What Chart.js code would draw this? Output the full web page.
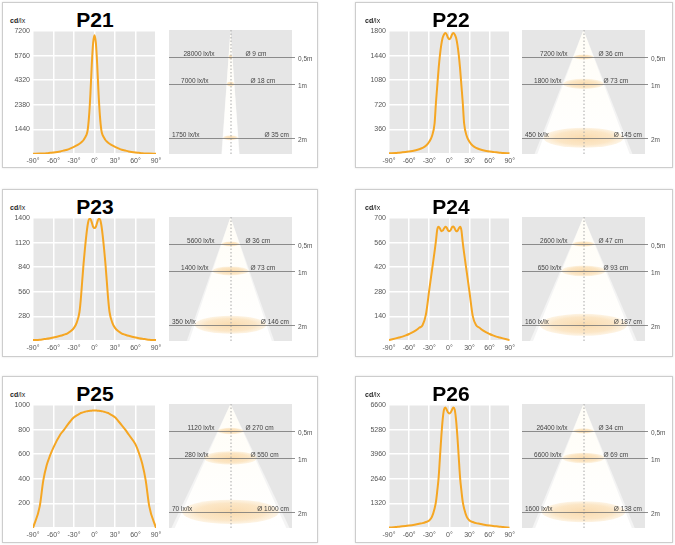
<!DOCTYPE html>
<html><head><meta charset="utf-8">
<script src="https://cdn.jsdelivr.net/npm/chart.js@4.4.0/dist/chart.umd.min.js"></script>
<style>
html,body{margin:0;padding:0;background:#fff}
body{width:675px;height:545px;position:relative;overflow:hidden;font-family:"Liberation Sans",Arial,Helvetica,sans-serif}
.box{position:absolute;border:1px solid #cdcdcd;box-shadow:0 0 2px rgba(0,0,0,0.12);background:#fff}
.title{position:absolute;width:80px;text-align:center;top:6px;font-weight:bold;font-size:21px;line-height:21px;color:#000}
.unit{position:absolute;left:8px;top:14px;font-size:7px;line-height:7px;color:#222}
.unit b{font-weight:bold}
canvas{position:absolute}
</style>
</head><body>
<script>
// ---------- data ----------
const panelNames = ['P21','P22','P23','P24','P25','P26'];
const angles = [-90,-80,-75,-70,-65,-60,-50,-45,-40,-35,-30,-26,-22,-20,-18,-16,-14,-12,-10,-8,-6,-4,-2,0,2,4,6,8,10,12,14,16,18,20,22,26,30,35,40,45,50,60,65,70,75,80,90];
const xTickValues = [-90,-60,-30,0,30,60,90];

const p21Values = [10,25,35,50,70,90,150,200,250,330,420,500,600,660,730,820,950,1100,1400,2200,3500,5200,6500,6950,6500,5200,3500,2200,1400,1100,950,820,730,660,600,500,420,330,250,200,150,90,70,50,35,25,10];
const p22Values = [10,15,20,25,30,35,55,70,90,120,180,260,450,750,1000,1250,1450,1600,1700,1750,1770,1750,1700,1680,1700,1750,1770,1750,1700,1600,1450,1250,1000,750,450,260,180,120,90,70,55,35,30,25,20,15,10];
const p23Values = [10,15,20,25,32,40,60,72,85,110,150,210,330,480,680,880,1050,1200,1320,1385,1390,1350,1300,1285,1300,1350,1390,1385,1320,1200,1050,880,680,480,330,210,150,110,85,72,60,40,32,25,20,15,10];
const p24Values = [5,15,20,25,32,40,60,75,90,150,290,400,510,570,635,650,640,625,628,640,650,645,630,625,632,648,652,640,625,626,640,650,630,560,500,390,280,140,90,75,60,40,32,25,20,15,5];
const p25Values = [0,180,385,510,590,656,760,795,835,870,900,915,928,935,938,942,945,948,950,952,953,954,955,955,955,954,953,952,950,948,945,942,938,935,928,915,900,868,835,800,760,680,610,520,385,180,0];
const p26Values = [20,50,70,90,110,130,190,225,260,320,400,600,1050,1400,2000,2700,3800,4900,5800,6350,6470,6350,6200,6150,6200,6350,6470,6350,5800,4900,3800,2700,2000,1400,1050,600,400,320,260,225,190,130,110,90,70,50,20];

const p21Ticks = ['','1440','2380','4320','5760','7200'];
const p22Ticks = ['','360','720','1080','1440','1800'];
const p23Ticks = ['','280','560','840','1120','1400'];
const p24Ticks = ['','140','280','420','560','700'];
const p25Ticks = ['','200','400','600','800','1000'];
const p26Ticks = ['','1320','2640','3960','5280','6600'];
const yMaxes = [7200,1800,1400,700,1000,6600];

const distances = [0.5, 1, 2];
const distanceLabels = ['0,5m','1m','2m'];
const p21Lux = [28000,7000,1750];   const p21Diam = [9,18,35];
const p22Lux = [7200,1800,450];     const p22Diam = [36,73,145];
const p23Lux = [5600,1400,350];     const p23Diam = [36,73,146];
const p24Lux = [2600,650,160];      const p24Diam = [47,93,187];
const p25Lux = [1120,280,70];       const p25Diam = [270,550,1000];
const p26Lux = [26400,6600,1600];   const p26Diam = [34,69,138];
// half-width (cm) of each light-cone drawing's horizontal axis
const coneHalfRange = [143,111,125,131,634,101];

const valueSets = [p21Values,p22Values,p23Values,p24Values,p25Values,p26Values];
const tickSets = [p21Ticks,p22Ticks,p23Ticks,p24Ticks,p25Ticks,p26Ticks];
const luxSets = [p21Lux,p22Lux,p23Lux,p24Lux,p25Lux,p26Lux];
const diamSets = [p21Diam,p22Diam,p23Diam,p24Diam,p25Diam,p26Diam];

// ---------- layout ----------
const boxes = [
  {x:2,y:2,w:316,h:166,col:0},{x:355,y:2,w:318,h:166,col:1},
  {x:2,y:189,w:316,h:168,col:0},{x:355,y:189,w:318,h:168,col:1},
  {x:2,y:376,w:316,h:167,col:0},{x:355,y:376,w:318,h:167,col:1}
];
const FONT = '"Liberation Sans", Arial, Helvetica, sans-serif';
const CURVE = '#f5a623';

const plotBg = {
  id:'plotBg',
  beforeDraw(chart){
    const {ctx, chartArea:a} = chart;
    ctx.save(); ctx.fillStyle = '#e7e7e7';
    ctx.fillRect(a.left, a.top, a.right-a.left, a.bottom-a.top);
    ctx.restore();
  }
};

const conePlugin = {
  id:'cone',
  afterDraw(chart){
    const {ctx, chartArea:a, scales:{x, y}} = chart;
    const pts = chart.data.datasets[0].data;
    const cx = x.getPixelForValue(0);
    ctx.save();
    ctx.fillStyle = '#e6e6e6';
    ctx.fillRect(a.left, a.top, a.right-a.left, a.bottom-a.top);
    const far = pts[pts.length-1];
    const yEnd = y.max;
    const hw = far.diam/2 * (yEnd/far.y);
    const apexY = y.getPixelForValue(0);
    const botY = y.getPixelForValue(yEnd);
    ctx.beginPath();
    ctx.rect(a.left, a.top, a.right-a.left, a.bottom-a.top);
    ctx.clip();
    ctx.fillStyle = 'rgba(255,255,255,0.55)';
    ctx.beginPath();
    ctx.moveTo(cx, apexY);
    ctx.lineTo(x.getPixelForValue(-hw*1.06), botY);
    ctx.lineTo(x.getPixelForValue(hw*1.06), botY);
    ctx.closePath(); ctx.fill();
    const g = ctx.createLinearGradient(0, apexY, 0, botY);
    g.addColorStop(0,'#fffdf6'); g.addColorStop(1,'#ffffff');
    ctx.fillStyle = g;
    ctx.beginPath();
    ctx.moveTo(cx, apexY);
    ctx.lineTo(x.getPixelForValue(-hw), botY);
    ctx.lineTo(x.getPixelForValue(hw), botY);
    ctx.closePath(); ctx.fill();
    pts.forEach(p => {
      const py = y.getPixelForValue(p.y);
      const rx = Math.abs(x.getPixelForValue(p.diam/2) - cx);
      const ry = Math.max(2.5, rx*0.25);
      const rg = ctx.createRadialGradient(cx, py, 0, cx, py, rx);
      rg.addColorStop(0,'rgba(246,190,110,0.55)');
      rg.addColorStop(0.7,'rgba(247,200,130,0.45)');
      rg.addColorStop(1,'rgba(248,210,150,0.25)');
      ctx.fillStyle = rg;
      ctx.save(); ctx.translate(cx, py); ctx.scale(1, ry/rx); ctx.translate(-cx,-py);
      ctx.beginPath(); ctx.arc(cx, py, rx, 0, Math.PI*2); ctx.fill();
      ctx.restore();
    });
    ctx.strokeStyle = '#a8a8a8'; ctx.lineWidth = 1; ctx.setLineDash([1.5,2]);
    ctx.beginPath(); ctx.moveTo(cx+0.5, apexY); ctx.lineTo(cx+0.5, botY); ctx.stroke();
    ctx.setLineDash([]);
    ctx.restore();
    ctx.save();
    ctx.font = '6.5px ' + FONT;
    pts.forEach((p, i) => {
      const py = Math.round(y.getPixelForValue(p.y)) + 0.5;
      ctx.strokeStyle = '#737373'; ctx.lineWidth = 0.8;
      ctx.beginPath(); ctx.moveTo(a.left, py); ctx.lineTo(a.right+3, py); ctx.stroke();
      ctx.fillStyle = '#444';
      ctx.textBaseline = 'alphabetic';
      const luxText = p.lux + ' ' + 'lx/lx';
      const dText = 'Ø ' + p.diam + ' cm';
      if (i < 2) {
        ctx.textAlign = 'right'; ctx.fillText(luxText, cx - (16 + 6*i), py - 1.5);
        ctx.textAlign = 'left'; ctx.fillText(dText, cx + (15 + 5*i), py - 1.5);
      } else {
        ctx.textAlign = 'left'; ctx.fillText(luxText, a.left + 3, py - 1.5);
        ctx.textAlign = 'right'; ctx.fillText(dText, a.right - 3, py - 1.5);
      }
      ctx.textAlign = 'left'; ctx.textBaseline = 'middle';
      ctx.fillStyle = '#555';
      ctx.fillText(p.label, a.right + 6, py + 2);
    });
    ctx.restore();
  }
};

function makeCanvas(parent, left, top, w, h){
  const c = document.createElement('canvas');
  c.width = w; c.height = h;
  c.style.left = left+'px'; c.style.top = top+'px';
  c.style.width = w+'px'; c.style.height = h+'px';
  parent.appendChild(c);
  return c;
}

boxes.forEach((b, k) => {
  const div = document.createElement('div');
  div.className = 'box';
  div.style.left = b.x+'px'; div.style.top = b.y+'px';
  div.style.width = (b.w-2)+'px'; div.style.height = (b.h-2)+'px';
  document.body.appendChild(div);

  const t = document.createElement('div');
  t.className = 'title';
  t.textContent = panelNames[k];
  t.style.left = (b.col ? 55 : 52) + 'px';
  div.appendChild(t);
  const u = document.createElement('div');
  u.className = 'unit';
  u.innerHTML = '<b>cd</b>/lx';
  u.style.left = (b.col ? 9 : 7) + 'px';
  div.appendChild(u);

  const yW = b.col ? 33 : 30;
  const lc = makeCanvas(div, 0, 19, 162, 147);
  const vals = valueSets[k];
  const ticks = tickSets[k];
  const yMax = yMaxes[k];
  new Chart(lc, {
    type:'line',
    data:{datasets:[{
      data: angles.map((a, i) => ({x:a, y:vals[i]})),
      borderColor: CURVE, borderWidth: 2, pointRadius: 0,
      cubicInterpolationMode: 'monotone', fill:false
    }]},
    options:{
      responsive:false, animation:false, events:[],
      layout:{padding:{top:9, right:b.col ? 8 : 9, bottom:0, left:0}},
      plugins:{legend:{display:false}, tooltip:{enabled:false}, title:{display:false}},
      scales:{
        x:{type:'linear', min:-90, max:90,
          afterBuildTicks: s => { s.ticks = xTickValues.map(v => ({value:v})); },
          afterFit: s => { s.height = 15; },
          ticks:{callback: v => v + '°', font:{size:7, family:FONT}, color:'#555', padding:3, maxRotation:0, autoSkip:false},
          grid:{color:'#ffffff', lineWidth:1.5, drawTicks:false},
          border:{display:false}},
        y:{type:'linear', min:0, max:yMax,
          afterBuildTicks: s => { s.ticks = ticks.map((_, i) => ({value: yMax*i/5})); },
          afterFit: s => { s.width = yW; },
          ticks:{callback: (v, i) => ticks[i], font:{size:7, family:FONT}, color:'#555', padding:3},
          grid:{color:'#ffffff', lineWidth:1.5, drawTicks:false},
          border:{display:false}}
      }
    },
    plugins:[plotBg]
  });

  const cc = makeCanvas(div, 159, 19, 158, 143);
  const R = coneHalfRange[k];
  new Chart(cc, {
    type:'scatter',
    data:{datasets:[{
      data: distances.map((d, i) => ({x:0, y:d, diam:diamSets[k][i], lux:luxSets[k][i], label:distanceLabels[i]})),
      pointRadius:0, showLine:false
    }]},
    options:{
      responsive:false, animation:false, events:[],
      layout:{padding:{left:7, top:8, right:28, bottom:11}},
      plugins:{legend:{display:false}, tooltip:{enabled:false}},
      scales:{
        x:{type:'linear', min:-R, max:R, display:false},
        y:{type:'linear', min:0, max:2.3, reverse:true, display:false}
      }
    },
    plugins:[conePlugin]
  });
});
</script>
</body></html>
